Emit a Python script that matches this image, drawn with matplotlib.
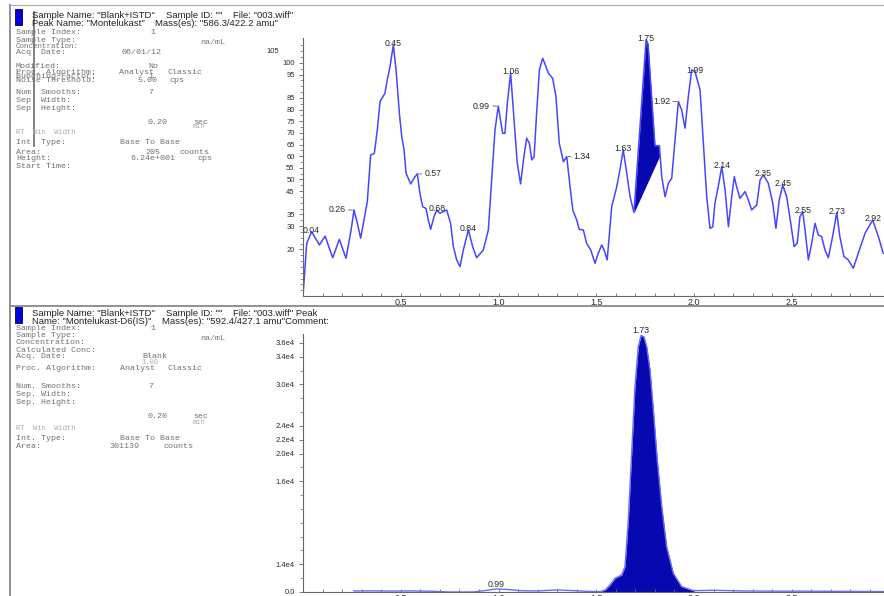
import matplotlib
matplotlib.use("Agg")
import matplotlib.pyplot as plt
import numpy as np
from matplotlib.lines import Line2D
from matplotlib.patches import Rectangle

plt.rcParams["font.family"] = ["Liberation Sans", "DejaVu Sans"]

# ---- upper XIC: Montelukast 586.3/422.2 (cps) ----
top_time = [0.000, 0.019, 0.044, 0.084, 0.113, 0.152, 0.186, 0.220, 0.246, 0.261,
            0.278, 0.295, 0.309, 0.317, 0.329, 0.346, 0.365, 0.380, 0.394, 0.419,
            0.431, 0.445, 0.462, 0.476, 0.493, 0.505, 0.517, 0.527, 0.551, 0.573,
            0.585, 0.598, 0.612, 0.629, 0.641, 0.653, 0.670, 0.684, 0.700, 0.735,
            0.755, 0.769, 0.786, 0.803, 0.820, 0.846, 0.868, 0.888, 0.922, 0.948,
            0.965, 0.982, 0.999, 1.021, 1.033, 1.045, 1.062, 1.076, 1.096, 1.113,
            1.130, 1.144, 1.158, 1.170, 1.182, 1.195, 1.209, 1.226, 1.243, 1.255,
            1.277, 1.294, 1.311, 1.332, 1.349, 1.366, 1.380, 1.400, 1.413, 1.434,
            1.451, 1.472, 1.494, 1.510, 1.528, 1.540, 1.556, 1.579, 1.605, 1.621,
            1.638, 1.656, 1.673, 1.693, 1.755, 1.765, 1.800, 1.823, 1.835, 1.852,
            1.869, 1.886, 1.903, 1.920, 1.937, 1.954, 1.971, 1.988, 2.005, 2.031,
            2.048, 2.065, 2.082, 2.096, 2.107, 2.124, 2.142, 2.159, 2.176, 2.193,
            2.206, 2.218, 2.235, 2.261, 2.278, 2.295, 2.321, 2.338, 2.355, 2.380,
            2.403, 2.419, 2.436, 2.454, 2.474, 2.495, 2.512, 2.528, 2.542, 2.556,
            2.568, 2.585, 2.602, 2.619, 2.636, 2.653, 2.670, 2.687, 2.709, 2.730,
            2.746, 2.767, 2.789, 2.815, 2.840, 2.875, 2.914, 2.943, 2.968]
top_counts = [0.0, 22.6, 27.6, 21.9, 25.7, 16.4, 24.3, 16.2, 28.3, 36.9,
              31.2, 24.8, 31.2, 34.8, 40.5, 60.5, 61.2, 71.2, 83.4, 87.0,
              92.7, 98.4, 107.7, 97.0, 78.4, 68.4, 62.7, 52.7, 48.1, 51.2,
              52.4, 44.1, 38.3, 37.6, 32.6, 28.6, 34.0, 36.9, 35.5, 36.9,
              31.2, 21.2, 15.5, 12.6, 19.7, 28.3, 21.2, 16.4, 19.7, 28.3,
              49.8, 71.2, 81.5, 69.8, 69.8, 82.7, 95.6, 79.8, 57.0, 48.1,
              59.8, 67.7, 65.5, 58.4, 59.8, 78.4, 97.0, 102.0, 98.4, 95.6,
              93.4, 85.5, 65.5, 57.6, 59.8, 46.9, 36.9, 32.6, 28.6, 28.3,
              22.6, 19.7, 14.0, 18.3, 21.9, 19.7, 15.5, 38.3, 46.9, 54.1,
              62.7, 52.7, 42.6, 35.8, 110.0, 108.0, 64.5, 64.5, 51.2, 42.6,
              48.4, 50.5, 67.0, 83.4, 79.8, 72.0, 85.5, 97.0, 96.3, 88.4,
              65.5, 42.6, 29.0, 29.7, 39.8, 46.9, 55.5, 45.5, 29.7, 42.6,
              51.2, 46.9, 41.9, 44.8, 41.2, 36.9, 39.1, 49.8, 51.9, 48.4,
              39.8, 29.0, 41.2, 47.6, 42.6, 31.2, 21.2, 22.6, 34.0, 36.2,
              28.3, 15.5, 22.6, 31.2, 26.2, 25.5, 19.7, 16.4, 25.5, 35.8,
              25.5, 16.9, 15.5, 11.9, 18.3, 26.9, 32.6, 25.5, 18.3]

# integrated peak (base to base)
top_peak_start, top_peak_end = 1.693, 1.823
top_base_start, top_base_end = 35.8, 59.8

top_peak_labels = ["0.04", "0.26", "0.45", "0.57", "0.68", "0.84", "0.99", "1.06", "1.34", "1.63",
                   "1.75", "1.92", "1.99", "2.14", "2.35", "2.45", "2.55", "2.73", "2.92"]
top_peak_time = [0.044, 0.261, 0.462, 0.585, 0.684, 0.846, 0.999, 1.062, 1.349, 1.638,
                 1.755, 1.920, 2.005, 2.142, 2.355, 2.454, 2.556, 2.730, 2.914]
top_peak_counts = [27.6, 36.9, 107.7, 52.4, 36.9, 28.3, 81.5, 95.6, 59.8, 62.7,
                   110.0, 83.4, 96.3, 55.5, 51.9, 47.6, 36.2, 35.8, 32.6]

top_ytick_vals = [20, 30, 35, 45, 50, 55, 60, 65, 70, 75, 80, 85, 95, 100]

# ---- lower XIC: Montelukast-D6 (IS) 592.4/427.1 (cps) ----
low_time = [0.26, 0.35, 0.45, 0.55, 0.65, 0.75, 0.87, 0.93, 0.99, 1.05,
            1.12, 1.20, 1.30, 1.38, 1.45, 1.519, 1.545, 1.57, 1.596, 1.63,
            1.647, 1.664, 1.681, 1.698, 1.715, 1.729, 1.744, 1.758, 1.775, 1.792,
            1.812, 1.835, 1.86, 1.894, 1.937, 1.997, 2.10, 2.25, 2.40, 2.55,
            2.70, 2.85, 2.97]
low_counts = [150, 160, 140, 150, 120, 0, 0, 200, 450, 350,
              180, 150, 300, 200, 100, 50, 290, 1010, 1980, 2460,
              3660, 10400, 20000, 29700, 35450, 37100, 36900, 35450, 32080, 26300,
              19100, 12300, 6550, 2700, 770, 190, 250, 150, 120, 120,
              100, 80, 60]
low_peak_start, low_peak_end = 1.519, 1.997

low_peak_labels = ["0.99", "1.73"]
low_peak_time = [0.99, 1.73]
low_peak_counts = [450, 37100]

low_ytick_vals = [0, 4000, 16000, 20000, 22000, 24000, 30000, 34000, 36000]
low_ytick_text = ["0.0", "1.4e4", "1.6e4", "2.0e4", "2.2e4", "2.4e4", "3.0e4", "3.4e4", "3.6e4"]

xtick_vals = [0.5, 1.0, 1.5, 2.0, 2.5]

W, H = 884, 596
LINE = "#4646ff"
FILL = "#0808b0"
GREY = "#2a2a2a"


def fx(x):
    return x / W


def fy(y):
    return 1 - y / H


fig = plt.figure(figsize=(W / 100, H / 100), dpi=100)

ax1 = fig.add_axes([fx(303), fy(296), fx(884 - 303), (296 - 38) / H])
ax2 = fig.add_axes([fx(303), fy(592), fx(884 - 303), (592 - 334) / H])

t1 = np.array(top_time)
c1 = np.array(top_counts)
ax1.plot(t1, c1, color=LINE, lw=1.1)
sel = (t1 >= top_peak_start) & (t1 <= top_peak_end)
base = np.interp(t1[sel], [top_peak_start, top_peak_end], [top_base_start, top_base_end])
ax1.fill_between(t1[sel], base, c1[sel], color=FILL, lw=0)

t2 = np.array(low_time)
c2 = np.array(low_counts)
ax2.plot(t2, c2, color="#6a6aff", lw=1.0)
sel2 = (t2 >= low_peak_start) & (t2 <= low_peak_end)
ax2.fill_between(t2[sel2], 0, c2[sel2], color=FILL, lw=0)

for ax in (ax1, ax2):
    ax.set_xlim(0, (884 - 303) / 195.5)
    for s in ("top", "right"):
        ax.spines[s].set_visible(False)
    for s in ("left", "bottom"):
        ax.spines[s].set_color("#666666")
        ax.spines[s].set_linewidth(0.8)
    ax.set_xticks(xtick_vals)
    ax.set_xticks(np.arange(0.1, 3.0, 0.1), minor=True)
    ax.tick_params(axis="x", which="both", direction="in", length=2.5, width=0.6,
                   colors="#666666", labelcolor=GREY, labelsize=6.5, pad=1.5)
    ax.tick_params(axis="y", which="major", direction="out", length=3, width=0.6,
                   colors="#666666", labelcolor=GREY, labelsize=5.5, pad=3)
    ax.tick_params(axis="y", which="minor", direction="out", length=2, width=0.5,
                   colors="#666666")
    ax.patch.set_alpha(0)

ax1.set_ylim(0, 110.7)
ax1.set_xticklabels(["0.5", "1.0", "1.5", "2.0", "2.5"])
ax1.set_yticks(top_ytick_vals)
ax1.set_yticklabels([str(v) for v in top_ytick_vals])
ax1.set_yticks(np.arange(2.5, 110, 2.5), minor=True)
ax1.annotate("105", xy=(0, 105), xycoords=("axes fraction", "data"), xytext=(-17, 0),
             textcoords="offset points", ha="right", va="center", fontsize=5.5, color=GREY)

ax2.set_ylim(0, 37300)
ax2.set_xticklabels(["0.5", "1.0", "1.5", "2.0", "2.5"])
ax2.set_yticks(low_ytick_vals)
ax2.set_yticklabels(low_ytick_text)
ax2.set_yticks(np.arange(2000, 37000, 2000), minor=True)

# peak labels
left_lead = {"0.26", "0.99", "1.92"}
right_lead = {"0.57", "1.34"}
for lab, t, c in zip(top_peak_labels, top_peak_time, top_peak_counts):
    if lab in left_lead:
        ax1.annotate(lab, xy=(t, c), xytext=(-6, 0), textcoords="offset points",
                     ha="right", va="center", fontsize=6.3, color=GREY,
                     arrowprops=dict(arrowstyle="-", color="#555555", lw=0.6,
                                     shrinkA=0, shrinkB=1))
    elif lab in right_lead:
        ax1.annotate(lab, xy=(t, c), xytext=(5, 0), textcoords="offset points",
                     ha="left", va="center", fontsize=6.3, color=GREY,
                     arrowprops=dict(arrowstyle="-", color="#555555", lw=0.6,
                                     shrinkA=0, shrinkB=1))
    else:
        ax1.annotate(lab, xy=(t, c), xytext=(0, 1), textcoords="offset points",
                     ha="center", va="center", fontsize=6.3, color=GREY,
                     annotation_clip=False)

for lab, t, c in zip(low_peak_labels, low_peak_time, low_peak_counts):
    ax2.annotate(lab, xy=(t, c), xytext=(0, 0), textcoords="offset points",
                 ha="center", va="bottom", fontsize=6.3, color=GREY,
                 annotation_clip=False)

# frame lines
fig.add_artist(Line2D([fx(10), fx(10)], [fy(5), fy(596)], color="#888888", lw=1.3))
fig.add_artist(Line2D([fx(10), fx(884)], [fy(5), fy(5)], color="#aaaaaa", lw=0.8))
fig.add_artist(Line2D([fx(10), fx(884)], [fy(306), fy(306)], color="#888888", lw=1.3))
fig.add_artist(Line2D([fx(34), fx(34)], [fy(12), fy(146)], color="#777777", lw=1.3))

# blue markers
for y0 in (9, 307):
    fig.add_artist(Rectangle((fx(15), fy(y0 + 16)), fx(7), 16 / H,
                             facecolor="#0000dd", edgecolor="#000044", lw=0.6))


def head(x, y, s):
    fig.text(fx(x), fy(y), s, fontsize=6.8, color="#222222", ha="left", va="center")


def mono(x, y, s, size=6.0, color="#707070"):
    fig.text(fx(x), fy(y), s, fontsize=size, color=color, family="Liberation Mono",
             ha="left", va="center")


head(32, 15, 'Sample Name: "Blank+ISTD"')
head(166, 15, 'Sample ID: ""')
head(233, 15, 'File: "003.wiff"')
head(32, 24, 'Peak Name: "Montelukast"')
head(155, 24, 'Mass(es): "586.3/422.2 amu"')

top_info = [
    (16, 33, "Sample Index:"), (150, 33, "1"),
    (16, 40, "Sample Type:"), (200, 43, "na/mL"),
    (16, 52, "Acq. Date:"), (121, 52, "06/01/12"),
    (16, 67, "Modified:"), (148, 67, "No"),
    (16, 72, "Proc. Algorithm:"), (119, 72, "Analyst"), (167, 72, "Classic"),
    (16, 77, "Bunching Factor:"), (148, 77, "1"),
    (16, 80, "Noise Threshold:"), (138, 80, "5.00"), (170, 80, "cps"),
    (16, 93, "Num. Smooths:"), (148, 93, "7"),
    (16, 100, "Sep. Width:"),
    (16, 108, "Sep. Height:"),
    (147, 122, "0.20"), (193, 122, "sec"),
    (16, 143, "Int. Type:"), (120, 143, "Base To Base"),
    (16, 152, "Area:"), (145, 152, "205"), (180, 152, "counts"),
    (16, 159, "Height:"), (130, 159, "6.24e+001"), (197, 159, "cps"),
    (16, 167, "Start Time:"),
]
for x, y, s in top_info:
    mono(x, y, s)
mono(16, 47, "Concentration:", size=5.4)
mono(193, 127, "min", size=5.0, color="#aaaaaa")
mono(16, 132, "RT  Win  Width", size=5.0, color="#aaaaaa")

head(32, 313, 'Sample Name: "Blank+ISTD"')
head(166, 313, 'Sample ID: ""')
head(233, 313, 'File: "003.wiff" Peak')
head(32, 321, 'Name: "Montelukast-D6(IS)"')
head(162, 321, 'Mass(es): "592.4/427.1 amu"Comment:')

low_info = [
    (16, 328, "Sample Index:"), (150, 328, "1"),
    (16, 335, "Sample Type:"), (200, 338, "na/mL"),
    (16, 343, "Concentration:"),
    (16, 350, "Calculated Conc:"),
    (16, 357, "Acq. Date:"), (142, 356, "Blank"),
    (16, 368, "Proc. Algorithm:"), (120, 368, "Analyst"), (168, 368, "Classic"),
    (16, 387, "Num. Smooths:"), (148, 387, "7"),
    (16, 394, "Sep. Width:"),
    (16, 402, "Sep. Height:"),
    (147, 417, "0.20"), (193, 417, "sec"),
    (16, 438, "Int. Type:"), (120, 438, "Base To Base"),
    (16, 447, "Area:"), (109, 447, "301139"), (163, 447, "counts"),
]
for x, y, s in low_info:
    mono(x, y, s)
mono(142, 362, "1.00", size=5.0, color="#aaaaaa")
mono(193, 423, "min", size=5.0, color="#aaaaaa")
mono(16, 428, "RT  Win  Width", size=5.0, color="#aaaaaa")

fig.savefig("out.png", dpi=100)
